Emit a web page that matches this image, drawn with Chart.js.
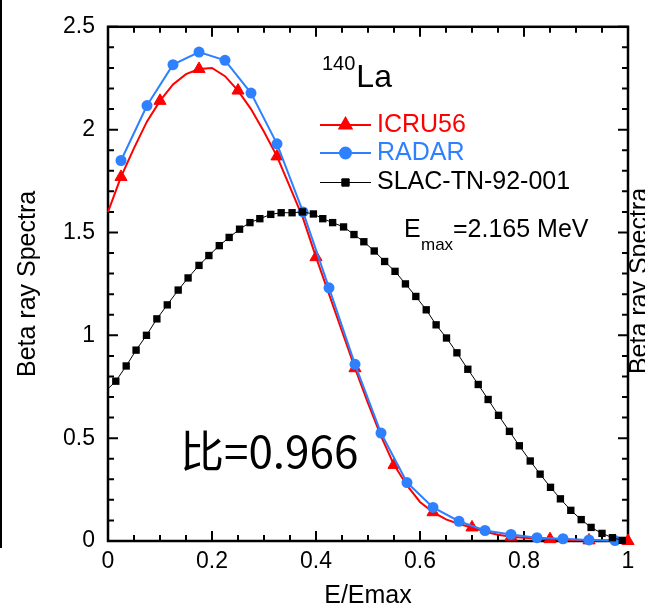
<!DOCTYPE html>
<html>
<head>
<meta charset="utf-8">
<script src="https://cdn.jsdelivr.net/npm/chart.js@4.4.0/dist/chart.umd.min.js"></script>
<style>
html, body { margin: 0; padding: 0; background: #fff; }
#wrap { width: 645px; height: 607px; }
</style>
</head>
<body>
<div id="wrap"><canvas id="chart" width="645" height="607"></canvas></div>
<script>
// ICRU56 (red, marker on every third point)
var icruX = [0, 0.025, 0.05, 0.075, 0.1, 0.125, 0.15, 0.175, 0.2, 0.225,
    0.25, 0.275, 0.3, 0.325, 0.35, 0.375, 0.4, 0.425, 0.45, 0.475,
    0.5, 0.525, 0.55, 0.575, 0.6, 0.625, 0.65, 0.675, 0.7, 0.725,
    0.75, 0.775, 0.8, 0.825, 0.85, 0.875, 0.9, 0.925, 0.95, 0.975, 1.0];
var icruY = [1.60, 1.77, 1.91, 2.04, 2.14, 2.22, 2.27, 2.295, 2.30, 2.26,
    2.19, 2.10, 1.99, 1.87, 1.72, 1.57, 1.38, 1.20, 1.02, 0.84,
    0.67, 0.51, 0.37, 0.27, 0.19, 0.14, 0.105, 0.083, 0.066, 0.045,
    0.03, 0.021, 0.016, 0.012, 0.009, 0.006, 0.004, 0.003, 0.002, 0.001, 0];

// RADAR (blue)
var radarX = [0.025, 0.075, 0.125, 0.175, 0.225, 0.275, 0.325, 0.375, 0.425, 0.475,
    0.525, 0.575, 0.625, 0.675, 0.725, 0.775, 0.825, 0.875, 0.925, 0.975];
var radarY = [1.85, 2.117, 2.316, 2.377, 2.337, 2.178, 1.931, 1.60, 1.231, 0.859,
    0.525, 0.284, 0.163, 0.096, 0.051, 0.032, 0.016, 0.011, 0.005, 0.002];

// SLAC-TN-92-001 (black), first point only starts the line at the axis
var slacX = [0, 0.015, 0.035, 0.054, 0.074, 0.094, 0.114, 0.135, 0.154, 0.175, 0.194,
    0.214, 0.233, 0.253, 0.273, 0.292, 0.313, 0.333, 0.354, 0.374, 0.395,
    0.413, 0.432, 0.453, 0.473, 0.492, 0.512, 0.532, 0.552, 0.572, 0.592,
    0.612, 0.631, 0.651, 0.671, 0.692, 0.712, 0.731, 0.751, 0.772, 0.791,
    0.812, 0.831, 0.851, 0.870, 0.890, 0.910, 0.929, 0.950, 0.970, 0.989];
var slacY = [0.74, 0.777, 0.851, 0.928, 1.0, 1.08, 1.148, 1.22, 1.279, 1.34, 1.388,
    1.436, 1.476, 1.516, 1.548, 1.567, 1.588, 1.596, 1.596, 1.6, 1.59,
    1.567, 1.548, 1.527, 1.49, 1.455, 1.41, 1.359, 1.311, 1.25, 1.189,
    1.124, 1.051, 0.987, 0.915, 0.835, 0.761, 0.688, 0.611, 0.533, 0.463,
    0.389, 0.325, 0.261, 0.205, 0.149, 0.104, 0.066, 0.037, 0.016, 0.003];

var xTicks = [0, 0.2, 0.4, 0.6, 0.8, 1];
var xLabels = ['0', '0.2', '0.4', '0.6', '0.8', '1'];
var yTicks = [0, 0.5, 1, 1.5, 2, 2.5];
var yLabels = ['0', '0.5', '1', '1.5', '2', '2.5'];

var RED = '#ff0000';
var BLUE = '#2f80ff';
var FONT = 'Liberation Sans, Arial, sans-serif';

function toPoints(xs, ys) {
    return xs.map(function (x, i) { return {x: x, y: ys[i]}; });
}

var icruRadius = icruX.map(function (x, i) { return i % 3 === 1 ? 7 : 0; });
var slacRadius = slacX.map(function (x, i) { return i === 0 ? 0 : 5.2; });

// box with inward ticks on all four sides
var framePlugin = {
    id: 'frame',
    beforeDatasetsDraw: function (chart) {
        var ctx = chart.ctx, a = chart.chartArea;
        var xs = chart.scales.x, ys = chart.scales.y;
        ctx.save();
        ctx.strokeStyle = '#000';
        ctx.lineWidth = 2;
        ctx.beginPath();
        for (var i = 0; i <= 20; i++) {
            var px = xs.getPixelForValue(i * 0.05);
            var len = i % 4 === 0 ? 10 : 6;
            ctx.moveTo(px, a.bottom); ctx.lineTo(px, a.bottom - len);
            ctx.moveTo(px, a.top); ctx.lineTo(px, a.top + len);
        }
        for (var k = 0; k <= 25; k++) {
            var py = ys.getPixelForValue(k * 0.1);
            var l = k % 5 === 0 ? 10 : 6;
            ctx.moveTo(a.left, py); ctx.lineTo(a.left + l, py);
            ctx.moveTo(a.right, py); ctx.lineTo(a.right - l, py);
        }
        ctx.stroke();
        ctx.lineWidth = 2.5;
        ctx.strokeRect(a.left, a.top, a.right - a.left, a.bottom - a.top);
        ctx.restore();
    }
};

// legend, labels and the bits of the neighbouring panels
var notesPlugin = {
    id: 'notes',
    afterDraw: function (chart) {
        var ctx = chart.ctx;
        ctx.save();
        ctx.fillStyle = '#000';
        ctx.textBaseline = 'alphabetic';

        ctx.font = '20px ' + FONT;
        ctx.fillText('140', 322, 70);
        var w = ctx.measureText('140').width;
        ctx.font = '32px ' + FONT;
        ctx.fillText('La', 322 + w + 1, 87);

        var rows = [
            {text: 'ICRU56', color: RED, y: 125, width: 2, style: 'triangle', r: 7},
            {text: 'RADAR', color: BLUE, y: 153, width: 2, style: 'circle', r: 5.5},
            {text: 'SLAC-TN-92-001', color: '#000', y: 182.5, width: 1, style: 'rect', r: 5.2}
        ];
        rows.forEach(function (row) {
            ctx.strokeStyle = row.color;
            ctx.lineWidth = row.width;
            ctx.beginPath();
            ctx.moveTo(320, row.y);
            ctx.lineTo(371, row.y);
            ctx.stroke();
            ctx.fillStyle = row.color;
            ctx.strokeStyle = row.color;
            Chart.helpers.drawPoint(ctx, {pointStyle: row.style, radius: row.r, borderWidth: 1, rotation: 0}, 345.5, row.y);
            ctx.font = '25px ' + FONT;
            ctx.textBaseline = 'middle';
            ctx.fillText(row.text, 377, row.y);
        });

        ctx.fillStyle = '#000';
        ctx.textBaseline = 'alphabetic';
        ctx.font = '25px ' + FONT;
        ctx.fillText('E', 404, 237);
        ctx.font = '17px ' + FONT;
        ctx.fillText('max', 421, 250);
        ctx.font = '25px ' + FONT;
        ctx.fillText('=2.165 MeV', 453, 237);

        ctx.font = '44px "Noto Sans CJK SC", sans-serif';
        ctx.fillText('比=0.966', 180, 468);

        // edge of the panel on the left
        ctx.strokeStyle = '#000';
        ctx.lineWidth = 2;
        ctx.beginPath();
        ctx.moveTo(1, 0);
        ctx.lineTo(1, 548);
        ctx.stroke();

        // y title of the panel on the right, cut by the page edge
        ctx.translate(647, 281);
        ctx.rotate(-Math.PI / 2);
        ctx.textAlign = 'center';
        ctx.font = '25px ' + FONT;
        ctx.fillText('Beta ray Spectra', 0, 0);
        ctx.restore();
    }
};

new Chart(document.getElementById('chart'), {
    type: 'line',
    data: {
        datasets: [{
            label: 'ICRU56',
            data: toPoints(icruX, icruY),
            borderColor: RED,
            backgroundColor: RED,
            borderWidth: 2,
            pointStyle: 'triangle',
            pointRadius: icruRadius,
            pointBorderWidth: 1,
            order: 3,
            clip: false
        }, {
            label: 'RADAR',
            data: toPoints(radarX, radarY),
            borderColor: BLUE,
            backgroundColor: BLUE,
            borderWidth: 2,
            pointStyle: 'circle',
            pointRadius: 5.5,
            pointBorderWidth: 0,
            order: 2,
            clip: false
        }, {
            label: 'SLAC-TN-92-001',
            data: toPoints(slacX, slacY),
            borderColor: '#000',
            backgroundColor: '#000',
            borderWidth: 1,
            pointStyle: 'rect',
            pointRadius: slacRadius,
            pointBorderWidth: 0,
            order: 1,
            clip: false
        }]
    },
    options: {
        responsive: false,
        devicePixelRatio: 1,
        animation: false,
        layout: {padding: {left: 0, right: 17, top: 21, bottom: 0}},
        plugins: {
            legend: {display: false},
            tooltip: {enabled: false}
        },
        elements: {line: {tension: 0}},
        scales: {
            x: {
                type: 'linear',
                min: 0,
                max: 1,
                afterFit: function (s) { s.height = 66; },
                afterBuildTicks: function (s) {
                    s.ticks = xTicks.map(function (v) { return {value: v}; });
                },
                grid: {display: false, drawTicks: false},
                border: {display: false},
                ticks: {
                    color: '#000', font: {family: FONT, size: 23}, padding: 7, maxRotation: 0,
                    callback: function (v) { return xLabels[xTicks.indexOf(v)]; }
                },
                title: {display: true, text: 'E/Emax', color: '#000',
                    font: {family: FONT, size: 25, lineHeight: 0.9}, padding: {top: 0, bottom: 0}}
            },
            y: {
                type: 'linear',
                min: 0,
                max: 2.5,
                afterFit: function (s) { s.width = 108; },
                afterBuildTicks: function (s) {
                    s.ticks = yTicks.map(function (v) { return {value: v}; });
                },
                grid: {display: false, drawTicks: false},
                border: {display: false},
                ticks: {
                    color: '#000', font: {family: FONT, size: 23}, padding: 13,
                    callback: function (v) { return yLabels[yTicks.indexOf(v)]; }
                },
                title: {display: true, text: 'Beta ray Spectra', color: '#000',
                    font: {family: FONT, size: 25, lineHeight: 0.9}, padding: {top: 17, bottom: 0}}
            }
        }
    },
    plugins: [framePlugin, notesPlugin]
});
</script>
</body>
</html>
